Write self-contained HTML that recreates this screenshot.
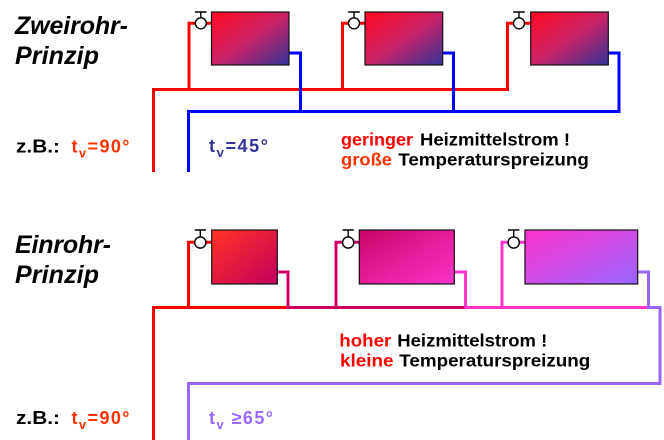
<!DOCTYPE html>
<html>
<head>
<meta charset="utf-8">
<style>
html,body{margin:0;padding:0;background:#fff;}
svg{display:block;}
text{font-family:"Liberation Sans",Arial,sans-serif;font-weight:bold;}
.t{font-style:italic;font-size:25px;fill:#000;}
.s{font-size:17.8px;}
.z{font-size:18px;}
</style>
</head>
<body>
<svg width="664" height="440" viewBox="0 0 664 440" xmlns="http://www.w3.org/2000/svg">
<defs>
<linearGradient id="g1" x1="0" y1="0" x2="1" y2="1">
<stop offset="0" stop-color="#ff0a22"/>
<stop offset="0.5" stop-color="#cc2266"/>
<stop offset="1" stop-color="#333399"/>
</linearGradient>
<linearGradient id="g2" x1="0" y1="0" x2="1" y2="1">
<stop offset="0" stop-color="#ff3322"/>
<stop offset="1" stop-color="#c4005e"/>
</linearGradient>
<linearGradient id="g3" x1="0" y1="0" x2="1" y2="1">
<stop offset="0" stop-color="#c80566"/>
<stop offset="1" stop-color="#ff33cc"/>
</linearGradient>
<linearGradient id="g4" x1="0" y1="0" x2="1" y2="1">
<stop offset="0" stop-color="#ff33cc"/>
<stop offset="1" stop-color="#9966ff"/>
</linearGradient>
</defs>

<g fill="none" stroke-width="3" stroke-linejoin="miter" stroke-linecap="butt">
<path stroke="#ff0000" d="M153.5 172 V89.5 H507.5 V23.3 H514"/>
<path stroke="#ff0000" d="M189 89.5 V23.3 H195.5"/>
<path stroke="#ff0000" d="M342.5 89.5 V23.3 H349"/>
<path stroke="#ff0000" d="M206 23.3 H212 M359 23.3 H365 M524 23.3 H531"/>
<path stroke="#0000ff" d="M188.5 172 V111.5 H619 V53 H608"/>
<path stroke="#0000ff" d="M289 53 H300.5 V111.5"/>
<path stroke="#0000ff" d="M442.7 53 H453.5 V111.5"/>

<path stroke="#ff0000" d="M153.5 440 V307.5 H288"/>
<path stroke="#ff0000" d="M188.5 307.5 V242.3 H195 M205.5 242.3 H212"/>
<path stroke="#cc0066" d="M277.3 272 H288 V307.5 H465.5"/>
<path stroke="#cc0066" d="M336 307.5 V242.3 H343 M353.5 242.3 H359.5"/>
<path stroke="#ff33cc" d="M454.3 272 H465.5 V307.5 H648.5"/>
<path stroke="#ff33cc" d="M502 307.5 V242.3 H508.5 M519 242.3 H525"/>
<path stroke="#9966ff" d="M637.7 272 H648.5 V307.5 H660 V383.5 H188.5 V440"/>
</g>

<g stroke="#111" stroke-width="1.2">
<rect x="211.5" y="12" width="77.5" height="53" fill="url(#g1)"/>
<rect x="365" y="12" width="77.7" height="53" fill="url(#g1)"/>
<rect x="530.7" y="12" width="77.6" height="53" fill="url(#g1)"/>
<rect x="211.7" y="230" width="65.6" height="54" fill="url(#g2)"/>
<rect x="359.3" y="230" width="95" height="54" fill="url(#g3)"/>
<rect x="525" y="230" width="112.7" height="54" fill="url(#g4)"/>
</g>

<g stroke="#000" stroke-width="1.4" fill="#fff">
<circle cx="200.8" cy="23.3" r="5.5"/>
<circle cx="354" cy="23.3" r="5.5"/>
<circle cx="519" cy="23.3" r="5.5"/>
<circle cx="200.3" cy="242.5" r="5.6"/>
<circle cx="348.2" cy="242.5" r="5.6"/>
<circle cx="513.7" cy="242.5" r="5.6"/>
</g>
<g stroke="#000" stroke-width="1.4" fill="none">
<path d="M200.8 12 V17.8 M195 12 H206.6"/>
<path d="M354 12 V17.8 M348.2 12 H359.8"/>
<path d="M519 12 V17.8 M513.2 12 H524.8"/>
<path d="M200.3 230 V236.9 M194.8 230 H206"/>
<path d="M348.2 230 V236.9 M342.6 230 H353.8"/>
<path d="M513.7 230 V236.9 M508 230 H519.4"/>
</g>

<text class="t" x="15" y="34" textLength="113">Zweirohr-</text>
<text class="t" x="15" y="64" textLength="84">Prinzip</text>
<text class="t" x="15" y="253" textLength="96">Einrohr-</text>
<text class="t" x="15" y="283" textLength="84">Prinzip</text>

<text class="z" x="16" y="152.7" textLength="44" lengthAdjust="spacingAndGlyphs" fill="#000">z.B.:</text>
<text class="z" x="71.5" y="152.7" textLength="58" fill="#ff3300">t<tspan font-size="13" dy="5">v</tspan><tspan dy="-5">=90°</tspan></text>
<text class="z" x="209" y="152" textLength="59" fill="#333399">t<tspan font-size="13" dy="5">v</tspan><tspan dy="-5">=45°</tspan></text>
<text class="s" x="341" y="145.7" textLength="72" lengthAdjust="spacingAndGlyphs" fill="#ff0000">geringer</text>
<text class="s" x="420" y="145.7" textLength="150" lengthAdjust="spacingAndGlyphs" fill="#000">Heizmittelstrom !</text>
<text class="s" x="341" y="165.7" textLength="51" lengthAdjust="spacingAndGlyphs" fill="#ff3300">große</text>
<text class="s" x="398.3" y="165.7" textLength="190.5" lengthAdjust="spacingAndGlyphs" fill="#000">Temperaturspreizung</text>

<text class="s" x="339.3" y="346.7" textLength="52" lengthAdjust="spacingAndGlyphs" fill="#ff0000">hoher</text>
<text class="s" x="397.3" y="346.7" textLength="150" lengthAdjust="spacingAndGlyphs" fill="#000">Heizmittelstrom !</text>
<text class="s" x="340" y="366.7" textLength="53.5" lengthAdjust="spacingAndGlyphs" fill="#ff0000">kleine</text>
<text class="s" x="399.3" y="366.7" textLength="191" lengthAdjust="spacingAndGlyphs" fill="#000">Temperaturspreizung</text>
<text class="z" x="16" y="424" textLength="44" lengthAdjust="spacingAndGlyphs" fill="#000">z.B.:</text>
<text class="z" x="71.5" y="424" textLength="58" fill="#ff3300">t<tspan font-size="13" dy="5">v</tspan><tspan dy="-5">=90°</tspan></text>
<text class="z" x="209" y="424" textLength="64" fill="#9966ff">t<tspan font-size="13" dy="5">v</tspan><tspan dy="-5"> ≥65°</tspan></text>
</svg>
</body>
</html>
